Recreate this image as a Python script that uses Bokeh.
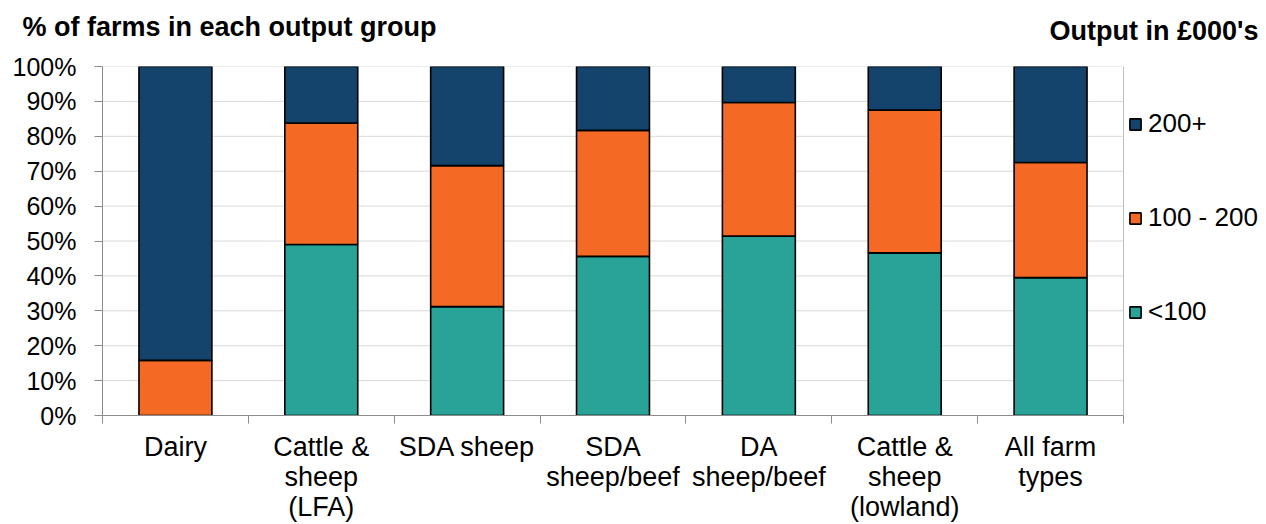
from bokeh.plotting import figure
from bokeh.models import (ColumnDataSource, FixedTicker, Range1d, Span, Label,
                          Legend, LegendItem)
from bokeh.embed import file_html
from bokeh.resources import INLINE

# ---- data ----
categories = ["Dairy", "Cattle &\nsheep\n(LFA)", "SDA sheep", "SDA\nsheep/beef",
              "DA\nsheep/beef", "Cattle &\nsheep\n(lowland)", "All farm\ntypes"]
under_100 = [0.0, 49.0, 31.2, 45.6, 51.4, 46.6, 39.5]
from_100_to_200 = [15.8, 34.8, 40.4, 36.1, 38.3, 40.9, 33.0]
over_200 = [84.2, 16.2, 28.4, 18.3, 10.3, 12.5, 27.5]
series_names = ["<100", "100 - 200", "200+"]
colors = ["#29A298", "#F46A24", "#14436B"]
y_ticks = [0, 10, 20, 30, 40, 50, 60, 70, 80, 90, 100]
y_tick_labels = {t: f"{t}%" for t in y_ticks}
title_left = "% of farms in each output group"
title_right = "Output in £000's"

n = len(categories)
xpos = [i + 0.5 for i in range(n)]
source = ColumnDataSource(dict(x=xpos, lt=under_100, mid=from_100_to_200, top=over_200))

FONT = "Liberation Sans"
W, H = 1266, 524
LEFT, TOP, BOTTOM = 102, 66, 109
PLOT_RIGHT = 1123                      # right edge of the category area
x_end = n * (W - LEFT) / (PLOT_RIGHT - LEFT)   # extra room on the right for the legend

p = figure(width=W, height=H, output_backend="svg", toolbar_location=None,
           x_range=Range1d(0, x_end), y_range=Range1d(0, 100),
           min_border_left=LEFT, min_border_right=0, min_border_top=TOP,
           min_border_bottom=BOTTOM)
p.outline_line_color = None
p.background_fill_color = "white"
p.border_fill_color = "white"

# horizontal grid lines limited to the category area
p.xgrid.visible = False
p.ygrid.visible = False
grid_y = y_ticks[1:]
p.segment(x0=[0] * len(grid_y), x1=[n] * len(grid_y), y0=grid_y, y1=grid_y,
          line_color="#D9D9D9", line_width=1)

renderers = p.vbar_stack(["lt", "mid", "top"], x="x", width=0.5, source=source,
                         fill_color=colors, line_color="black", line_width=1.6)

# y axis
yax = p.yaxis[0]
yax.ticker = FixedTicker(ticks=y_ticks)
yax.major_label_overrides = y_tick_labels
yax.axis_line_color = "#8C8C8C"
yax.major_tick_line_color = "#8C8C8C"
yax.major_tick_out = 8
yax.major_tick_in = 0
yax.minor_tick_line_color = None
yax.major_label_text_font = FONT
yax.major_label_text_font_size = "25px"
yax.major_label_text_color = "black"
yax.major_label_standoff = 18

# x axis: labels at centres, ticks at boundaries (minor ticks)
xax = p.xaxis[0]
xax.bounds = (0, n)
xax.ticker = FixedTicker(ticks=xpos, minor_ticks=list(range(n + 1)))
xax.major_label_overrides = {x: c for x, c in zip(xpos, categories)}
xax.axis_line_color = "#8C8C8C"
xax.major_tick_line_color = None
xax.major_tick_out = 0
xax.major_tick_in = 0
xax.minor_tick_line_color = "#8C8C8C"
xax.minor_tick_out = 8
xax.minor_tick_in = 0
xax.major_label_text_font = FONT
xax.major_label_text_font_size = "27px"
xax.major_label_text_color = "black"
xax.major_label_text_line_height = 1.0
xax.major_label_standoff = 8

# right border line of the category area
p.add_layout(Span(location=n, dimension="height", line_color="#BFBFBF", line_width=1))

# titles (in the top panel)
p.add_layout(Label(x=-80, y=40, x_units="screen", y_units="screen",
                   text=title_left, text_font=FONT,
                   text_font_size="27px", text_font_style="bold", text_color="black",
                   text_align="left", text_baseline="alphabetic"), "above")
p.add_layout(Label(x=1156, y=6, x_units="screen", y_units="screen",
                   text=title_right, text_font=FONT,
                   text_font_size="27px", text_font_style="bold", text_color="black",
                   text_align="right", text_baseline="alphabetic"), "above")

# legend (inside the widened frame, right of the categories)
items = [LegendItem(label=series_names[i], renderers=[renderers[i]]) for i in (2, 1, 0)]
legend = Legend(items=items, location=(1026, 88), orientation="vertical",
                glyph_width=14, glyph_height=14, label_standoff=6,
                label_text_font=FONT, label_text_font_size="26px",
                label_text_color="black", spacing=63, padding=0, margin=0,
                border_line_color=None, background_fill_alpha=0)
p.add_layout(legend)

open("out.html", "w").write(file_html(p, INLINE))
